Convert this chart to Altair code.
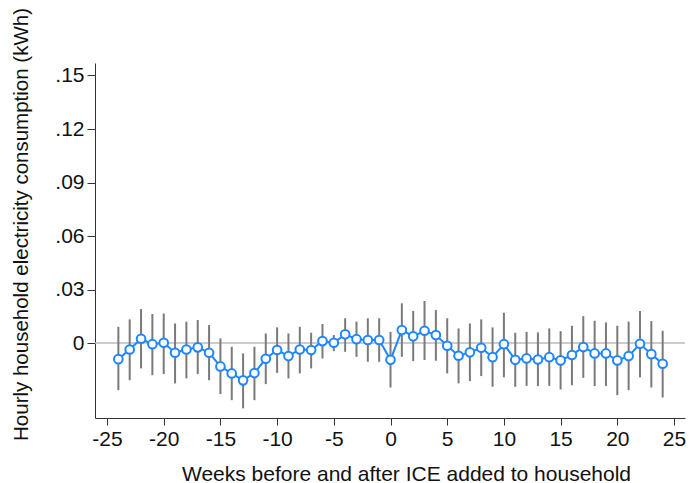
import altair as alt
import pandas as pd

weeks = list(range(-24, 25))
coef = [-0.0090, -0.0036, 0.0024, -0.0006, 0.0002, -0.0054, -0.0036, -0.0024, -0.0054, -0.0131,
        -0.0170, -0.0209, -0.0168, -0.0088, -0.0039, -0.0073, -0.0036, -0.0039, 0.0011, 0.0002,
        0.0049, 0.0022, 0.0017, 0.0017, -0.0094, 0.0073, 0.0038, 0.0069, 0.0045, -0.0015,
        -0.0071, -0.0052, -0.0026, -0.0079, -0.0006, -0.0094, -0.0086, -0.0092, -0.0079, -0.0097,
        -0.0067, -0.0022, -0.0058, -0.0058, -0.0097, -0.0073, -0.0004, -0.0062, -0.0116]
upper = [0.0091, 0.0133, 0.0191, 0.0163, 0.0166, 0.0110, 0.0120, 0.0129, 0.0101, 0.0026,
         -0.0021, -0.0058, -0.0021, 0.0054, 0.0088, 0.0054, 0.0091, 0.0058, 0.0107, 0.0045,
         0.0139, 0.0120, 0.0139, 0.0139, 0.0063, 0.0223, 0.0180, 0.0236, 0.0185, 0.0139,
         0.0082, 0.0110, 0.0133, 0.0088, 0.0170, 0.0058, 0.0063, 0.0060, 0.0082, 0.0067,
         0.0097, 0.0151, 0.0125, 0.0116, 0.0097, 0.0120, 0.0180, 0.0123, 0.0069]
lower = [-0.0264, -0.0208, -0.0142, -0.0180, -0.0174, -0.0226, -0.0198, -0.0174, -0.0208, -0.0286,
         -0.0320, -0.0366, -0.0320, -0.0230, -0.0167, -0.0198, -0.0170, -0.0142, -0.0086, -0.0045,
         -0.0049, -0.0077, -0.0105, -0.0105, -0.0249, -0.0077, -0.0101, -0.0095, -0.0099, -0.0170,
         -0.0226, -0.0213, -0.0185, -0.0245, -0.0192, -0.0245, -0.0240, -0.0241, -0.0240, -0.0260,
         -0.0236, -0.0195, -0.0241, -0.0240, -0.0292, -0.0264, -0.0192, -0.0249, -0.0305]

df = pd.DataFrame({"week": weeks, "coef": coef, "upper": upper, "lower": lower})

FONT = "Liberation Sans"
xscale = alt.Scale(domain=[-26.06, 25.97], nice=False, zero=False)
yscale = alt.Scale(domain=[-0.042, 0.157], nice=False, zero=False)

x_axis = alt.Axis(values=list(range(-25, 30, 5)), labelExpr="toString(datum.value)",
                  title="Weeks before and after ICE added to household",
                  grid=False, domainColor="#333333", tickColor="#333333", tickSize=7,
                  labelFontSize=21, titleFontSize=21, labelColor="#111111", titleColor="#111111",
                  labelFont=FONT, titleFont=FONT, titleFontWeight="normal", labelPadding=3,
                  titleX=311, titleY=62, titleBaseline="alphabetic", titleAnchor="middle")
y_axis = alt.Axis(values=[0, 0.03, 0.06, 0.09, 0.12, 0.15],
                  labelExpr="datum.value == 0 ? '0' : replace(format(datum.value, '.2f'), '0.', '.')",
                  title="Hourly household electricity consumption (kWh)",
                  grid=False, domainColor="#333333", tickColor="#333333", tickSize=8,
                  labelFontSize=21, titleFontSize=20.5, labelColor="#111111", titleColor="#111111",
                  labelFont=FONT, titleFont=FONT, titleFontWeight="normal", labelPadding=3,
                  titleX=-68, titleY=161, titleBaseline="alphabetic", titleAngle=270,
                  titleAlign="center")

base = alt.Chart(df)

zero = alt.Chart(pd.DataFrame({"y": [0]})).mark_rule(color="#bbbbbb", strokeWidth=1.5).encode(
    y=alt.Y("y:Q", scale=yscale, axis=y_axis)
)

bars = base.mark_rule(color="#7a7a7a", strokeWidth=2).encode(
    x=alt.X("week:Q", scale=xscale, axis=x_axis),
    y=alt.Y("lower:Q", scale=yscale),
    y2="upper:Q",
)

line = base.mark_line(color="#1f86ff", strokeWidth=2).encode(
    x=alt.X("week:Q", scale=xscale),
    y=alt.Y("coef:Q", scale=yscale),
)

pts = base.mark_point(shape="circle", filled=True, fill="white", stroke="#1f86ff",
                      strokeWidth=2, size=75, opacity=1).encode(
    x=alt.X("week:Q", scale=xscale),
    y=alt.Y("coef:Q", scale=yscale),
)

chart = alt.layer(zero, bars, line, pts).properties(
    width=590, height=355,
    autosize=alt.AutoSizeParams(type="none"),
    padding={"left": 95, "top": 63, "right": 5, "bottom": 65},
    background="white",
).configure_view(stroke=None)

chart.save("out.html", embed_options={"renderer": "svg", "actions": False})
